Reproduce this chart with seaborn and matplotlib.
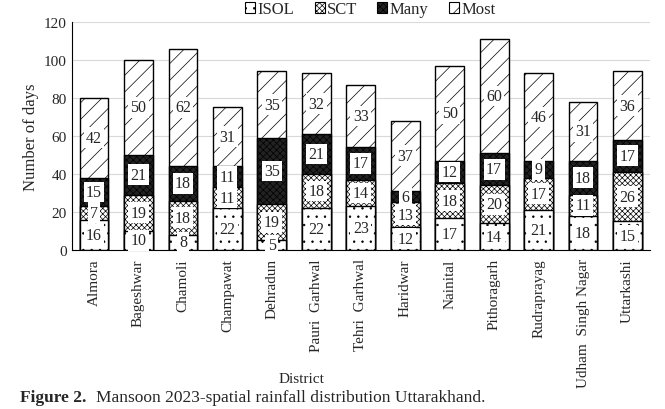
import numpy as np
import pandas as pd
import matplotlib.pyplot as plt
from matplotlib.patches import Patch
import seaborn as sns

sns.set_style("ticks")
plt.rcParams['font.family'] = ['Liberation Serif', 'DejaVu Serif']
plt.rcParams['hatch.linewidth'] = 0.5
plt.rcParams['hatch.color'] = 'black'

#=======================
districts = ['Almora', 'Bageshwar', 'Chamoli', 'Champawat', 'Dehradun', 'Pauri  Garhwal',
             'Tehri  Garhwal', 'Haridwar', 'Nainital', 'Pithoragarh', 'Rudraprayag',
             'Udham  Singh Nagar', 'Uttarkashi']
isol = [16, 10, 8, 22, 5, 22, 23, 12, 17, 14, 21, 18, 15]
sct = [7, 19, 18, 11, 19, 18, 14, 13, 18, 20, 17, 11, 26]
many = [15, 21, 18, 11, 35, 21, 17, 6, 12, 17, 9, 18, 17]
most = [42, 50, 62, 31, 35, 32, 33, 37, 50, 60, 46, 31, 36]
series = ['ISOL', 'SCT', 'Many', 'Most']
#=======================

df = pd.DataFrame({'District': districts, 'ISOL': isol, 'SCT': sct, 'Many': many, 'Most': most})
cum = df[series].cumsum(axis=1)

styles = {'ISOL': dict(facecolor='white', hatch='..'),
          'SCT': dict(facecolor='white', hatch='xxxxxx'),
          'Many': dict(facecolor='#222222', hatch='xxxxx'),
          'Most': dict(facecolor='white', hatch='//')}

fig = plt.figure(figsize=(6.65, 4.10), dpi=100)
ax = fig.add_axes([0.108, 0.388, 0.869, 0.556])

# draw top layer first, then lower cumulative layers over it
for s in reversed(series):
    sns.barplot(x=df['District'], y=cum[s], color='white', saturation=1, width=0.65,
                edgecolor='black', linewidth=1.0, hatch=styles[s]['hatch'], ax=ax)
    for p in ax.patches[-len(df):]:
        p.set_facecolor(styles[s]['facecolor'])

# value labels in white boxes
for i in range(len(df)):
    base = 0
    for s in series:
        v = df[s][i]
        ax.text(i, base + v / 2, str(v), ha='center', va='center', fontsize=11.5,
                bbox=dict(boxstyle='square,pad=0.15', facecolor='white', edgecolor='none'))
        base += v

ax.set_ylim(0, 120)
ax.set_xlim(-0.5, len(df) - 0.5)
ax.set_yticks(range(0, 121, 20))
ax.yaxis.grid(True, color='#d9d9d9', linewidth=0.8)
ax.set_axisbelow(True)
sns.despine(ax=ax, top=True, right=True)
ax.spines['left'].set_color('black')
ax.spines['bottom'].set_color('black')
ax.tick_params(axis='both', length=0, labelsize=11)
ax.tick_params(axis='x', pad=6)
plt.setp(ax.get_xticklabels(), rotation=90)
ax.set_ylabel('Number of days', fontsize=12)
ax.set_xlabel('District', fontsize=11)
ax.xaxis.set_label_coords(0.398, -0.535)

handles = [Patch(facecolor=styles[s]['facecolor'], hatch=styles[s]['hatch'],
                 edgecolor='black', linewidth=0.8, label=s) for s in series]
fig.legend(handles=handles, loc='center', bbox_to_anchor=(0.557, 0.975), ncol=4,
           frameon=False, fontsize=12, handlelength=0.6, handleheight=0.6,
           handletextpad=0.15, columnspacing=1.2)

fig.text(0.030, 0.030, 'Figure 2.', fontsize=12.5, fontweight='bold', va='center')
fig.text(0.144, 0.030, 'Mansoon 2023-spatial rainfall distribution Uttarakhand.',
         fontsize=12.5, va='center')

plt.savefig('out.png', dpi=100)
